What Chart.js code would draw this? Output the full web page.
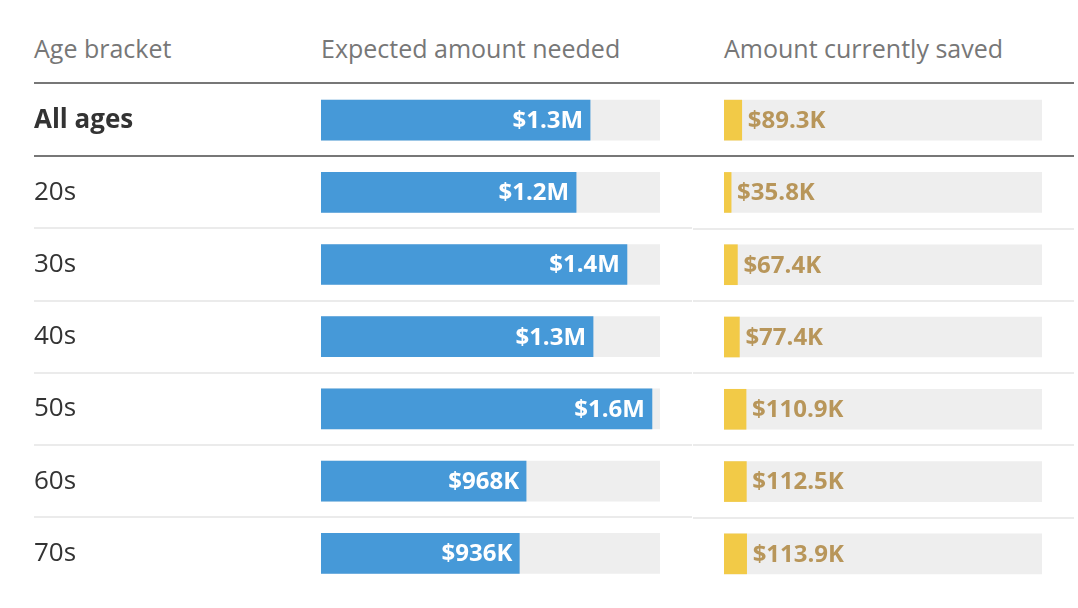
<!DOCTYPE html>
<html>
<head>
<meta charset="utf-8">
<script src="https://cdn.jsdelivr.net/npm/chart.js@4.4.1/dist/chart.umd.min.js"></script>
<style>
  body { margin: 0; background: #fff; font-family: "Open Sans", sans-serif; }
  #wrap { position: relative; width: 1078px; height: 608px; overflow: hidden; }
  .head { position: absolute; top: 33px; font-size: 25px; line-height: 30px; color: #777; white-space: nowrap; }
  #headLine { position: absolute; left: 34px; top: 82px; width: 1040px; height: 2px; background: #777; }
  canvas { position: absolute; top: 0; }
</style>
</head>
<body>
<div id="wrap">
  <div class="head" style="left:34px">Age bracket</div>
  <div class="head" style="left:321px">Expected amount needed</div>
  <div class="head" style="left:724px">Amount currently saved</div>
  <div id="headLine"></div>
  <canvas id="needChart" width="692" height="608" style="left:0"></canvas>
  <canvas id="savedChart" width="386" height="608" style="left:692px"></canvas>
</div>
<script>
const ageBrackets = ['All ages', '20s', '30s', '40s', '50s', '60s', '70s'];
const amountNeeded = [1270000, 1204000, 1444000, 1284000, 1562000, 968000, 936000];
const amountSaved = [89300, 35800, 67400, 77400, 110900, 112500, 113900];
const scaleMax = 1600000;
const trackValues = ageBrackets.map(() => scaleMax);

const FONT = '"Open Sans", sans-serif';

function fmtNeeded(v) {
    if (v >= 1000000) return '$' + (v / 1000000).toFixed(1) + 'M';
    return '$' + Math.round(v / 1000) + 'K';
}
function fmtSaved(v) {
    return '$' + (v / 1000).toFixed(1) + 'K';
}

// row separators, drawn between categories (dark one under "All ages")
function separators(x0, x1, darkX0) {
    return {
        id: 'separators',
        beforeDatasetsDraw(chart) {
            const y = chart.scales.y;
            const ctx = chart.ctx;
            ctx.save();
            for (let i = 0; i < ageBrackets.length - 1; i++) {
                const mid = (y.getPixelForValue(i) + y.getPixelForValue(i + 1)) / 2;
                const start = i === 0 ? darkX0 : x0;
                ctx.fillStyle = i === 0 ? '#777' : '#ebebeb';
                ctx.fillRect(start, Math.round(mid) - 1, x1 - start, 2);
            }
            ctx.restore();
        }
    };
}

function barLabels(inside, color, fmt) {
    return {
        id: 'barLabels',
        afterDatasetsDraw(chart) {
            const ctx = chart.ctx;
            const meta = chart.getDatasetMeta(0);
            const values = chart.data.datasets[0].data;
            ctx.save();
            ctx.font = 'bold 24px ' + FONT;
            ctx.fillStyle = color;
            ctx.textBaseline = 'middle';
            meta.data.forEach((bar, i) => {
                const text = fmt(values[i]);
                if (inside) {
                    ctx.textAlign = 'right';
                    ctx.fillText(text, bar.x - 7, bar.y + 1);
                } else {
                    ctx.textAlign = 'left';
                    ctx.fillText(text, bar.x + 6, bar.y + 1);
                }
            });
            ctx.restore();
        }
    };
}

function makeChart(id, values, color, opts) {
    return new Chart(document.getElementById(id), {
        type: 'bar',
        data: {
            labels: ageBrackets,
            datasets: [
                { data: values, backgroundColor: color, grouped: false, barThickness: 40 },
                { data: trackValues, backgroundColor: '#eeeeee', grouped: false, barThickness: 40 }
            ]
        },
        options: {
            indexAxis: 'y',
            responsive: false,
            animation: false,
            layout: { padding: opts.padding },
            plugins: { legend: { display: false }, tooltip: { enabled: false } },
            scales: {
                x: { display: false, min: 0, max: scaleMax },
                y: opts.yAxis
            }
        },
        plugins: [separators(opts.lineX0, opts.lineX1, opts.darkX0), barLabels(opts.inside, opts.labelColor, opts.fmt)]
    });
}

makeChart('needChart', amountNeeded, '#4699d8', {
    padding: { left: 34, right: 32, top: 84, bottom: 18 },
    yAxis: {
        display: true,
        grid: { display: false },
        border: { display: false },
        ticks: {
            crossAlign: 'far',
            color: '#333',
            font: (c) => ({ family: FONT, size: 26, weight: c.index === 0 ? 'bold' : 'normal' })
        },
        afterFit: (scale) => { scale.width = 287; }
    },
    lineX0: 34, lineX1: 692, darkX0: 34,
    inside: true, labelColor: '#ffffff', fmt: fmtNeeded
});

makeChart('savedChart', amountSaved, '#f2ca47', {
    padding: { left: 32, right: 36, top: 84, bottom: 18 },
    yAxis: { display: false },
    lineX0: 1, lineX1: 382, darkX0: 0,
    inside: false, labelColor: '#b8965a', fmt: fmtSaved
});
</script>
</body>
</html>
